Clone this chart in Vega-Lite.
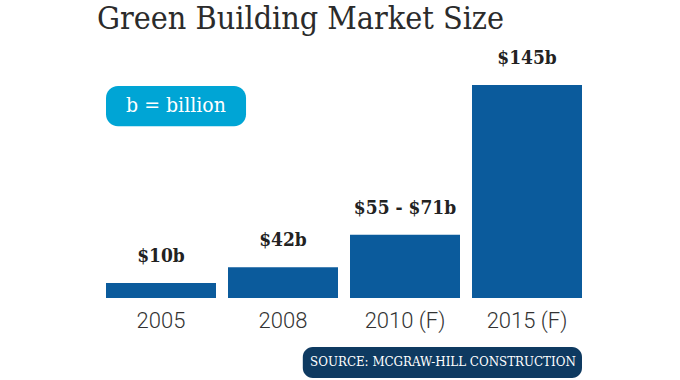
{
  "$schema": "https://vega.github.io/schema/vega-lite/v6.json",
  "width": 476,
  "height": 213,
  "autosize": "none",
  "padding": {"left": 106, "top": 85, "right": 98, "bottom": 82},
  "background": "white",
  "title": {
    "text": "Green Building Market Size",
    "anchor": "start",
    "frame": "group",
    "font": "DejaVu Serif Condensed",
    "fontSize": 32,
    "fontWeight": "normal",
    "color": "#2b2b2b",
    "baseline": "bottom",
    "offset": 8,
    "dy": 27,
    "dx": -9
  },
  "config": {"view": {"stroke": null}},
  "layer": [
    {
      "data": {"values": [
        {"year": "2005", "bar": 10.2, "label": "$10b"},
        {"year": "2008", "bar": 21, "label": "$42b"},
        {"year": "2010 (F)", "bar": 43, "label": "$55 - $71b"},
        {"year": "2015 (F)", "bar": 145, "label": "$145b"}
      ]},
      "layer": [
        {
          "mark": {"type": "bar", "color": "#0b5b9c"},
          "encoding": {
            "x": {
              "field": "year", "type": "ordinal", "sort": null,
              "scale": {"domain": ["2005", "2008", "2010 (F)", "2015 (F)"], "paddingInner": 0.0984, "paddingOuter": 0},
              "axis": {"title": null, "labelAngle": 0, "domain": false, "ticks": false, "labelPadding": 12,
                       "labelFont": "Roboto", "labelFontWeight": 300, "labelFontSize": 22, "labelColor": "#333333"}
            },
            "y": {"field": "bar", "type": "quantitative", "scale": {"domain": [0, 145], "nice": false}, "axis": null}
          }
        },
        {
          "mark": {"type": "text", "font": "DejaVu Serif Condensed", "fontWeight": "bold", "fontSize": 19, "baseline": "alphabetic", "dy": -21, "color": "#222222"},
          "encoding": {
            "x": {"field": "year", "type": "ordinal", "sort": null},
            "y": {"field": "bar", "type": "quantitative"},
            "text": {"field": "label"}
          }
        }
      ]
    },
    {
      "data": {"values": [
        {"x1": "2005", "x2": "2008", "y1": 144.3, "y2": 117, "tx": "2005", "ty": 130.7, "note": "b = billion"}
      ]},
      "layer": [
        {
          "mark": {"type": "rect", "color": "#00a5d5", "cornerRadius": 12},
          "encoding": {
            "x": {"field": "x1", "type": "ordinal", "bandPosition": 0},
            "x2": {"field": "x2", "bandPosition": 0.164},
            "y": {"field": "y1", "type": "quantitative"},
            "y2": {"field": "y2"}
          }
        },
        {
          "mark": {"type": "text", "font": "DejaVu Serif Condensed", "fontSize": 21, "color": "white", "baseline": "middle", "align": "center"},
          "encoding": {
            "x": {"field": "tx", "type": "ordinal", "bandPosition": 0.636},
            "y": {"field": "ty", "type": "quantitative"},
            "text": {"field": "note"}
          }
        }
      ]
    },
    {
      "data": {"values": [
        {"x1": "2008", "x2": "2015 (F)", "y1": -33.4, "y2": -54.5, "tx": "2010 (F)", "ty": -43.8, "note": "SOURCE: MCGRAW-HILL CONSTRUCTION"}
      ]},
      "layer": [
        {
          "mark": {"type": "rect", "color": "#0e3a61", "cornerRadius": 10},
          "encoding": {
            "x": {"field": "x1", "type": "ordinal", "bandPosition": 0.68},
            "x2": {"field": "x2", "bandPosition": 1},
            "y": {"field": "y1", "type": "quantitative"},
            "y2": {"field": "y2"}
          }
        },
        {
          "mark": {"type": "text", "font": "DejaVu Serif Condensed", "fontSize": 13.2, "color": "white", "baseline": "middle", "align": "center"},
          "encoding": {
            "x": {"field": "tx", "type": "ordinal", "bandPosition": 0.845},
            "y": {"field": "ty", "type": "quantitative"},
            "text": {"field": "note"}
          }
        }
      ]
    }
  ]
}
